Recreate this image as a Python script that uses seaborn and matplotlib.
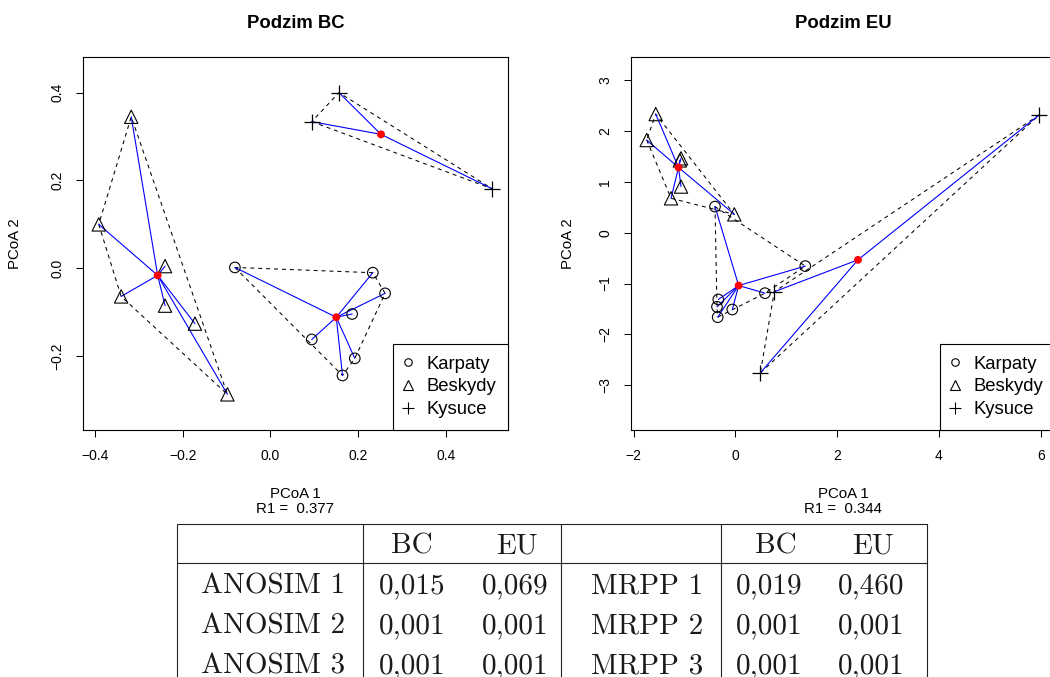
import numpy as np
import pandas as pd
import matplotlib
matplotlib.use("Agg")
import matplotlib.pyplot as plt
from matplotlib.lines import Line2D
from matplotlib.patches import Rectangle
import seaborn as sns

sns.set_style("ticks", {"axes.edgecolor": "black", "xtick.color": "black",
                        "ytick.color": "black", "text.color": "black",
                        "axes.labelcolor": "black"})
plt.rcParams["font.family"] = ["Liberation Sans", "DejaVu Sans"]
plt.rcParams["axes.unicode_minus"] = True

groups = ["Karpaty", "Beskydy", "Kysuce"]

# PCoA scores, Podzim BC (Bray-Curtis)
bc_karpaty_x = [-0.081, 0.233, 0.261, 0.186, 0.094, 0.192, 0.164]
bc_karpaty_y = [0.002, -0.010, -0.057, -0.104, -0.162, -0.205, -0.244]
bc_beskydy_x = [-0.317, -0.391, -0.240, -0.340, -0.240, -0.172, -0.098]
bc_beskydy_y = [0.345, 0.100, 0.005, -0.064, -0.085, -0.126, -0.287]
bc_kysuce_x = [0.156, 0.094, 0.505]
bc_kysuce_y = [0.400, 0.334, 0.181]
bc_r1 = 0.377

# PCoA scores, Podzim EU (Euclidean)
eu_karpaty_x = [-0.399, 1.375, 0.583, -0.334, -0.360, -0.059, -0.346]
eu_karpaty_y = [0.512, -0.657, -1.189, -1.313, -1.457, -1.510, -1.661]
eu_beskydy_x = [-1.564, -1.741, -1.067, -1.090, -1.067, -1.263, -0.020]
eu_beskydy_y = [2.330, 1.820, 1.460, 1.420, 0.906, 0.675, 0.360]
eu_kysuce_x = [5.973, 0.766, 0.491]
eu_kysuce_y = [2.315, -1.161, -2.756]
eu_r1 = 0.344

# test p-values
table_cols = ["BC", "EU"]
anosim_rows = ["ANOSIM 1", "ANOSIM 2", "ANOSIM 3"]
anosim_bc = [0.015, 0.001, 0.001]
anosim_eu = [0.069, 0.001, 0.001]
mrpp_rows = ["MRPP 1", "MRPP 2", "MRPP 3"]
mrpp_bc = [0.019, 0.001, 0.001]
mrpp_eu = [0.460, 0.001, 0.001]


def make_frame(kx, ky, bx, by, sx, sy):
    return pd.DataFrame({
        "x": kx + bx + sx,
        "y": ky + by + sy,
        "group": ["Karpaty"] * len(kx) + ["Beskydy"] * len(bx) + ["Kysuce"] * len(sx),
    })


bc = make_frame(bc_karpaty_x, bc_karpaty_y, bc_beskydy_x, bc_beskydy_y, bc_kysuce_x, bc_kysuce_y)
eu = make_frame(eu_karpaty_x, eu_karpaty_y, eu_beskydy_x, eu_beskydy_y, eu_kysuce_x, eu_kysuce_y)


def convex_hull(pts):
    pts = sorted(set(map(tuple, pts)))
    if len(pts) <= 2:
        return np.array(pts)

    def cross(o, a, b):
        return (a[0] - o[0]) * (b[1] - o[1]) - (a[1] - o[1]) * (b[0] - o[0])

    lower, upper = [], []
    for p in pts:
        while len(lower) >= 2 and cross(lower[-2], lower[-1], p) <= 0:
            lower.pop()
        lower.append(p)
    for p in reversed(pts):
        while len(upper) >= 2 and cross(upper[-2], upper[-1], p) <= 0:
            upper.pop()
        upper.append(p)
    return np.array(lower[:-1] + upper[:-1])


W, H = 1050, 677
fig = plt.figure(figsize=(W / 100, H / 100), dpi=100)


def rect(l, t, r, b):
    return [l / W, 1 - b / H, (r - l) / W, (b - t) / H]


marker_style = {
    "Karpaty": dict(marker="o", s=58, facecolor="none", edgecolor="black", linewidth=0.8),
    "Beskydy": dict(marker="^", s=92, facecolor="none", edgecolor="black", linewidth=0.8),
    "Kysuce": dict(marker="+", s=120, color="black", linewidth=0.9),
}


def draw_panel(ax, df, title, r1, xticks, yticks, fmt, wpx, hpx, ylab_x):
    for g in groups:
        sub = df[df["group"] == g]
        cx, cy = sub["x"].mean(), sub["y"].mean()
        hull = convex_hull(sub[["x", "y"]].values)
        closed = np.vstack([hull, hull[:1]])
        ax.plot(closed[:, 0], closed[:, 1], color="black", lw=0.75,
                linestyle=(0, (3.8, 3.8)), zorder=1)
        for x, y in zip(sub["x"], sub["y"]):
            ax.plot([cx, x], [cy, y], color="blue", lw=0.8, zorder=2)
    for g in groups:
        sub = df[df["group"] == g]
        sns.scatterplot(data=sub, x="x", y="y", ax=ax, legend=False, zorder=3,
                        **marker_style[g])
    cent = df.groupby("group", sort=False)[["x", "y"]].mean().reset_index()
    sns.scatterplot(data=cent, x="x", y="y", ax=ax, color="red", s=32,
                    edgecolor="none", legend=False, zorder=4)

    x0, x1 = df["x"].min(), df["x"].max()
    pad = 0.04 * (x1 - x0)
    xlo, xhi = x0 - pad, x1 + pad
    yr = (xhi - xlo) * hpx / wpx
    yc = (df["y"].min() + df["y"].max()) / 2
    ax.set_xlim(xlo, xhi)
    ax.set_ylim(yc - yr / 2, yc + yr / 2)

    ax.set_xticks(xticks)
    ax.set_xticklabels([fmt(v) for v in xticks])
    ax.set_yticks(yticks)
    ax.set_yticklabels([fmt(v) for v in yticks])
    ax.tick_params(axis="both", direction="out", length=5, width=0.75,
                   labelsize=10, pad=8.5)
    ax.tick_params(axis="y", labelrotation=90)
    for lbl in ax.get_yticklabels():
        lbl.set_va("center")
    for sp in ax.spines.values():
        sp.set_linewidth(0.8)

    ax.set_title(title, fontsize=13.3, fontweight="bold", pad=21)
    ax.set_xlabel(f"PCoA 1\nR1 =  {r1:.3f}", fontsize=10.8, linespacing=1.15)
    ax.xaxis.set_label_coords(0.5, -0.152)
    ax.set_ylabel("PCoA 2", fontsize=10.8)
    ax.yaxis.set_label_coords(ylab_x, 0.5)

    handles = [
        Line2D([], [], marker="o", ls="none", mfc="none", mec="black", ms=5.4, mew=0.8),
        Line2D([], [], marker="^", ls="none", mfc="none", mec="black", ms=7.2, mew=0.8),
        Line2D([], [], marker="+", ls="none", color="black", ms=8.5, mew=0.8),
    ]
    leg = ax.legend(handles, groups, loc="lower right", borderaxespad=0,
                    fontsize=13.3, frameon=True, fancybox=False, framealpha=1,
                    edgecolor="black", borderpad=0.65, handlelength=0.35,
                    handletextpad=0.8, labelspacing=0.3)
    leg.get_frame().set_linewidth(0.8)
    leg.set_zorder(10)


def fmt1(v):
    return f"{v:.1f}".replace("-", "\u2212")


def fmt0(v):
    return f"{v:d}".replace("-", "\u2212")


ax1 = fig.add_axes(rect(83, 57, 508, 430))
draw_panel(ax1, bc, "Podzim BC", bc_r1, [-0.4, -0.2, 0.0, 0.2, 0.4],
           [-0.2, 0.0, 0.2, 0.4], fmt1, 425, 373, -0.143)

ax2 = fig.add_axes(rect(631, 57, 1055, 430))
draw_panel(ax2, eu, "Podzim EU", eu_r1, [-2, 0, 2, 4, 6],
           [-3, -2, -1, 0, 1, 2, 3], fmt0, 424, 373, -0.132)


# results table below the two panels
def fx(x):
    return x / W


def fy(y):
    return 1 - y / H


table_left, table_right, table_top, header_bottom = 177, 927, 524, 563
col_lines = [363, 561, 721]
fig.add_artist(Rectangle((fx(table_left), fy(H + 20)), fx(table_right - table_left),
                         (H + 20 - table_top) / H,
                         transform=fig.transFigure, facecolor="white",
                         edgecolor="#222222", lw=0.8, zorder=20))
fig.add_artist(Line2D([fx(table_left), fx(table_right)], [fy(header_bottom)] * 2,
                      transform=fig.transFigure, color="#222222", lw=0.8, zorder=21))
for cxl in col_lines:
    fig.add_artist(Line2D([fx(cxl)] * 2, [fy(table_top), fy(H + 5)],
                          transform=fig.transFigure, color="#222222", lw=0.8, zorder=21))

tfont = dict(family="cmr10", fontsize=21, color="#1a1a1a", zorder=22)
header_y = 553
row_y = [593, 633, 673]
for name, xc in zip(table_cols, [412, 517]):
    fig.text(fx(xc), fy(header_y), name, ha="center", va="baseline", **tfont)
for name, xc in zip(table_cols, [776, 873]):
    fig.text(fx(xc), fy(header_y), name, ha="center", va="baseline", **tfont)


def comma(v):
    return f"{v:.3f}".replace(".", ",")


for i, yb in enumerate(row_y):
    fig.text(fx(345), fy(yb), anosim_rows[i], ha="right", va="baseline", **tfont)
    fig.text(fx(412), fy(yb), comma(anosim_bc[i]), ha="center", va="baseline", **tfont)
    fig.text(fx(515), fy(yb), comma(anosim_eu[i]), ha="center", va="baseline", **tfont)
    fig.text(fx(703), fy(yb), mrpp_rows[i], ha="right", va="baseline", **tfont)
    fig.text(fx(769), fy(yb), comma(mrpp_bc[i]), ha="center", va="baseline", **tfont)
    fig.text(fx(871), fy(yb), comma(mrpp_eu[i]), ha="center", va="baseline", **tfont)

fig.savefig("out.png", dpi=100)
